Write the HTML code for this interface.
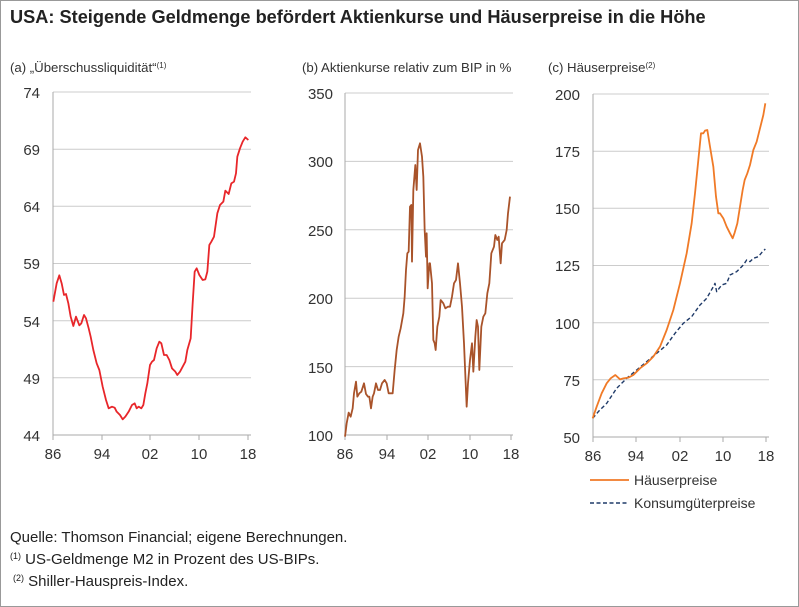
<!DOCTYPE html><html><head><meta charset="utf-8"><style>
html,body{margin:0;padding:0;background:#fff}
body{width:799px;height:607px;position:relative;overflow:hidden;font-family:"Liberation Sans","DejaVu Sans",sans-serif;color:#222}
.t{position:absolute;white-space:nowrap}
</style></head><body>
<div style="position:absolute;left:0;top:0;width:797px;height:605px;border:1px solid #999"></div>
<div class="t" style="left:10px;top:7px;font-size:18.2px;font-weight:bold">USA: Steigende Geldmenge befördert Aktienkurse und Häuserpreise in die Höhe</div>
<svg width="799" height="607" style="position:absolute;left:0;top:0" font-family="Liberation Sans, DejaVu Sans, sans-serif">
<g font-size="13.2" fill="#333">
<text x="10" y="72">(a) „Überschussliquidität“<tspan font-size="8" dy="-4">(1)</tspan></text>
<text x="302" y="72">(b) Aktienkurse relativ zum BIP in %</text>
<text x="548" y="72">(c) Häuserpreise<tspan font-size="8" dy="-4">(2)</tspan></text>
</g>
<g stroke="#ccc" stroke-width="1">
<line x1="53" y1="92" x2="251" y2="92"/><line x1="53" y1="149.2" x2="251" y2="149.2"/><line x1="53" y1="206.3" x2="251" y2="206.3"/><line x1="53" y1="263.5" x2="251" y2="263.5"/><line x1="53" y1="320.7" x2="251" y2="320.7"/><line x1="53" y1="377.8" x2="251" y2="377.8"/>
<line x1="345" y1="93" x2="513" y2="93"/><line x1="345" y1="161.4" x2="513" y2="161.4"/><line x1="345" y1="229.8" x2="513" y2="229.8"/><line x1="345" y1="298.2" x2="513" y2="298.2"/><line x1="345" y1="366.6" x2="513" y2="366.6"/>
<line x1="593" y1="94" x2="769" y2="94"/><line x1="593" y1="151.2" x2="769" y2="151.2"/><line x1="593" y1="208.3" x2="769" y2="208.3"/><line x1="593" y1="265.5" x2="769" y2="265.5"/><line x1="593" y1="322.7" x2="769" y2="322.7"/><line x1="593" y1="379.8" x2="769" y2="379.8"/>
</g>
<g stroke="#aaa" stroke-width="1" fill="none">
<path d="M53 92V435H251M53 435v5M102 435v5M150 435v5M199 435v5M248 435v5"/>
<path d="M345 93V435H513M345 435v5M387 435v5M428 435v5M470 435v5M511 435v5"/>
<path d="M593 94V437H769M593 437v5M636 437v5M680 437v5M723 437v5M766 437v5"/>
</g>
<g font-size="15" fill="#333" text-anchor="end">
<text x="40" y="98">74</text><text x="40" y="155">69</text><text x="40" y="212">64</text><text x="40" y="269">59</text><text x="40" y="327">54</text><text x="40" y="384">49</text><text x="40" y="441">44</text>
<text x="333" y="99">350</text><text x="333" y="167">300</text><text x="333" y="236">250</text><text x="333" y="304">200</text><text x="333" y="373">150</text><text x="333" y="441">100</text>
<text x="580" y="100">200</text><text x="580" y="157">175</text><text x="580" y="214">150</text><text x="580" y="271">125</text><text x="580" y="329">100</text><text x="580" y="386">75</text><text x="580" y="443">50</text>
</g>
<g font-size="15" fill="#333" text-anchor="middle">
<text x="53" y="459">86</text><text x="102" y="459">94</text><text x="150" y="459">02</text><text x="199" y="459">10</text><text x="248" y="459">18</text>
<text x="345" y="459">86</text><text x="387" y="459">94</text><text x="428" y="459">02</text><text x="470" y="459">10</text><text x="511" y="459">18</text>
<text x="593" y="461">86</text><text x="636" y="461">94</text><text x="680" y="461">02</text><text x="723" y="461">10</text><text x="766" y="461">18</text>
</g>
<g transform="translate(0,50) scale(0.33333)" fill="none" stroke-linejoin="round">
<polyline vector-effect="non-scaling-stroke" stroke="#e8262a" stroke-width="1.8" points="160,755 170,700 178,676 185,700 192,735 198,732 205,760 212,800 220,828 228,800 238,826 244,820 252,795 258,805 266,835 272,860 280,900 290,940 298,960 308,1010 318,1050 326,1075 336,1070 344,1073 350,1085 360,1095 368,1108 376,1100 386,1085 396,1065 404,1060 410,1075 416,1070 424,1075 430,1065 436,1030 442,1000 450,945 456,935 462,930 470,895 478,875 484,880 492,915 500,915 508,930 516,955 526,965 532,975 540,965 548,950 556,935 562,900 572,865 578,760 584,665 590,655 598,675 608,690 616,688 622,665 628,585 634,575 642,560 652,490 660,465 670,455 676,422 686,432 694,400 702,395 708,370 712,320 720,295 728,275 736,262 745,270"/>
</g>
<g transform="translate(290,50) scale(0.33333)" fill="none" stroke-linejoin="round">
<polyline vector-effect="non-scaling-stroke" stroke="#a9532a" stroke-width="1.8" points="165,1160 170,1120 176,1088 182,1100 188,1075 192,1030 198,995 202,1040 208,1030 214,1025 222,1000 228,1032 234,1040 238,1040 243,1075 248,1040 252,1030 258,1000 264,1020 270,1020 276,1000 284,990 290,1000 296,1030 302,1030 308,1030 314,960 320,900 326,860 332,835 340,790 344,740 348,660 352,610 356,605 360,470 364,465 366,635 370,420 376,345 380,420 384,300 390,280 396,320 400,380 404,540 408,620 410,550 413,715 418,640 420,640 426,700 430,870 434,880 437,900 442,830 448,800 452,750 460,760 466,775 474,770 480,770 486,740 492,700 498,690 504,640 510,700 516,770 522,880 530,1070 534,1000 540,930 546,880 550,965 556,860 560,810 564,830 568,960 574,830 580,800 586,790 592,730 598,700 604,610 612,590 616,555 622,570 626,560 632,640 636,580 644,570 650,540 654,490 660,440"/>
</g>
<g transform="translate(540,50) scale(0.33333)" fill="none" stroke-linejoin="round">
<polyline vector-effect="non-scaling-stroke" stroke="#1f3a68" stroke-width="1.4" stroke-dasharray="4,2.5" points="158,1105 175,1085 200,1060 230,1015 260,985 290,960 320,935 350,910 380,885 405,850 430,820 455,800 480,765 500,745 520,710 525,700 530,725 545,705 560,700 570,675 590,665 610,645 620,630 630,635 640,625 655,620 665,608 676,597"/>
<polyline vector-effect="non-scaling-stroke" stroke="#f07a27" stroke-width="1.8" points="158,1105 170,1070 185,1030 200,1000 212,985 226,975 240,988 250,985 265,983 280,975 300,955 320,940 340,920 360,890 380,840 400,780 420,700 440,610 455,520 465,430 475,330 483,250 490,250 495,242 502,240 510,290 520,350 528,440 535,490 540,490 550,505 560,530 570,550 578,565 584,548 592,520 600,470 608,420 614,390 622,370 630,345 640,300 650,275 660,235 670,195 676,160"/>
</g>
<line x1="590" y1="480" x2="629" y2="480" stroke="#f07a27" stroke-width="1.8"/>
<line x1="590" y1="503" x2="629" y2="503" stroke="#1f3a68" stroke-width="1.4" stroke-dasharray="4,2.5"/>
<g font-size="14" fill="#333"><text x="634" y="485">Häuserpreise</text><text x="634" y="508">Konsumgüterpreise</text></g>
<g font-size="15" fill="#222">
<text x="10" y="542">Quelle: Thomson Financial; eigene Berechnungen.</text>
<text x="10" y="564"><tspan font-size="9" dy="-5">(1)</tspan><tspan dy="5"> US-Geldmenge M2 in Prozent des US-BIPs.</tspan></text>
<text x="13" y="586"><tspan font-size="9" dy="-5">(2)</tspan><tspan dy="5"> Shiller-Hauspreis-Index.</tspan></text>
</g>
</svg>
</body></html>
